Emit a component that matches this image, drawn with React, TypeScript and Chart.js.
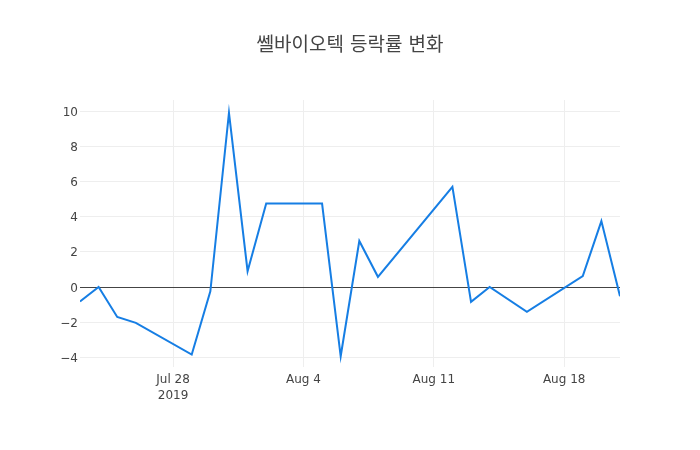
import { useEffect, useRef } from 'react';
import { Chart, registerables } from 'chart.js';

Chart.register(...registerables);

// trading days and daily change (%)
const dates = [
  '2019-07-23', '2019-07-24', '2019-07-25', '2019-07-26', '2019-07-29',
  '2019-07-30', '2019-07-31', '2019-08-01', '2019-08-02', '2019-08-05',
  '2019-08-06', '2019-08-07', '2019-08-08', '2019-08-12', '2019-08-13',
  '2019-08-14', '2019-08-16', '2019-08-19', '2019-08-20', '2019-08-21',
];
const changes = [
  -0.82, 0, -1.7, -2.04, -3.84,
  -0.24, 9.91, 0.9, 4.75, 4.75,
  -3.94, 2.62, 0.58, 5.7, -0.84,
  0, -1.41, 0.62, 3.75, -0.52,
];

const xTickDates = ['2019-07-28', '2019-08-04', '2019-08-11', '2019-08-18'];
const xTickLabels: (string | string[])[] = [['Jul 28', '2019'], 'Aug 4', 'Aug 11', 'Aug 18'];
const yTicks = [-4, -2, 0, 2, 4, 6, 8, 10];

const title = '쎌바이오텍 등락률 변화';

const toMs = (d: string) => {
  const [y, m, day] = d.split('-').map(Number);
  return Date.UTC(y, m - 1, day);
};

const FONT = '"DejaVu Sans", "Noto Sans CJK KR", sans-serif';

export default function App() {
  const canvasRef = useRef<HTMLCanvasElement>(null);
  const chartRef = useRef<Chart | null>(null);

  useEffect(() => {
    document.body.style.margin = '0';
    if (!canvasRef.current) return;
    if (chartRef.current) chartRef.current.destroy();

    const xTicks = xTickDates.map(toMs);

    chartRef.current = new Chart(canvasRef.current, {
      type: 'line',
      data: {
        datasets: [
          {
            data: dates.map((d, i) => ({ x: toMs(d), y: changes[i] })),
            borderColor: 'rgb(22, 126, 228)',
            borderWidth: 2,
            pointRadius: 0,
            tension: 0,
            fill: false,
          },
        ],
      },
      options: {
        responsive: false,
        animation: false,
        layout: { padding: 0 },
        plugins: {
          legend: { display: false },
          tooltip: { enabled: false },
          title: {
            display: true,
            text: title,
            color: '#444',
            font: { family: FONT, size: 19, weight: 'normal', lineHeight: 1.2 },
            padding: { top: 34.4, bottom: 42.8 },
          },
        },
        scales: {
          x: {
            type: 'linear',
            min: toMs(dates[0]),
            max: toMs(dates[dates.length - 1]),
            afterBuildTicks: (scale) => {
              scale.ticks = xTicks.map((v) => ({ value: v }));
            },
            afterFit: (scale) => {
              scale.height = 83;
            },
            grid: { color: '#eee', drawTicks: false },
            border: { display: false },
            ticks: {
              color: '#444',
              font: { family: FONT, size: 12, lineHeight: 1.35 },
              padding: 5,
              maxRotation: 0,
              autoSkip: false,
              callback: (value) => xTickLabels[xTicks.indexOf(Number(value))] ?? '',
            },
          },
          y: {
            min: -4.55,
            max: 10.64,
            afterBuildTicks: (scale) => {
              scale.ticks = yTicks.map((v) => ({ value: v }));
            },
            afterFit: (scale) => {
              scale.width = 80;
            },
            grid: {
              color: (ctx) => (ctx.tick && ctx.tick.value === 0 ? '#444' : '#eee'),
              drawTicks: false,
            },
            border: { display: false },
            ticks: {
              color: '#444',
              font: { family: FONT, size: 12 },
              padding: 2,
              labelOffset: 1.5,
              callback: (value) => {
                const v = Number(value);
                return v < 0 ? '\u2212' + Math.abs(v) : String(v);
              },
            },
          },
          // empty right margin so the title stays centred on the page
          right: {
            position: 'right',
            afterFit: (scale) => {
              scale.width = 80;
            },
            grid: { display: false },
            border: { display: false },
            ticks: { display: false },
          },
        },
      },
    });

    return () => {
      if (chartRef.current) {
        chartRef.current.destroy();
        chartRef.current = null;
      }
    };
  }, []);

  return (
    <div style={{ width: 700, height: 450, background: '#fff' }}>
      <canvas ref={canvasRef} width={700} height={450}></canvas>
    </div>
  );
}
